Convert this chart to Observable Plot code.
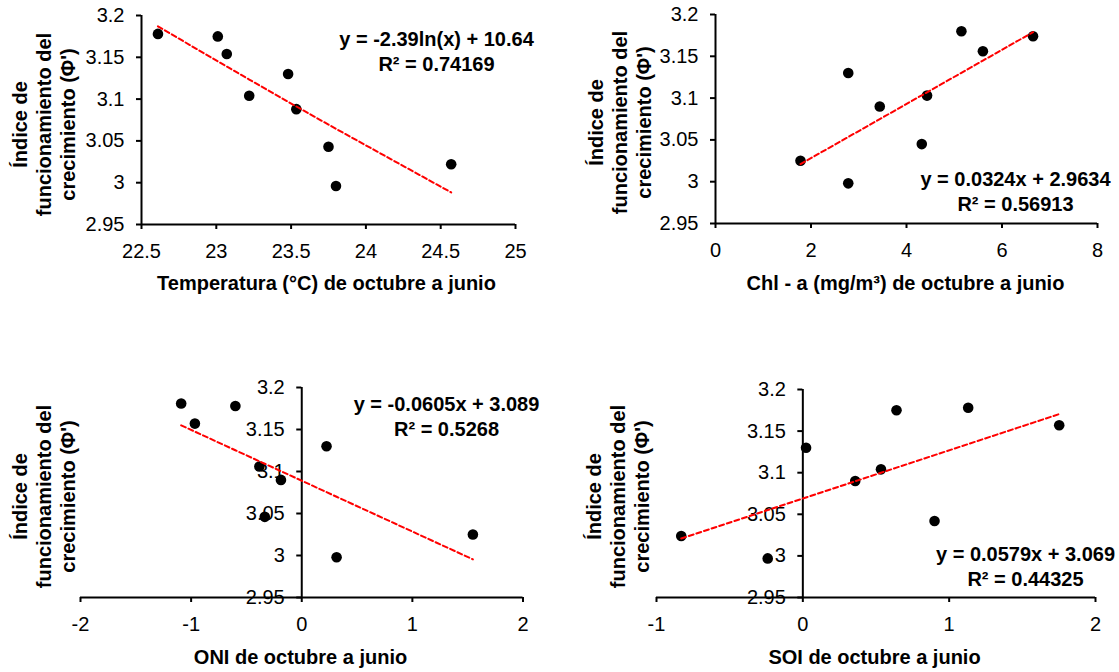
<!DOCTYPE html>
<html><head><meta charset="utf-8">
<script src="https://cdn.jsdelivr.net/npm/d3@7"></script>
<script src="https://cdn.jsdelivr.net/npm/@observablehq/plot@0.6"></script>
<style>
body{margin:0;background:#fff}
#wrap{position:relative;width:1119px;height:672px;overflow:hidden;background:#fff}
#wrap svg{position:absolute}
</style>
</head><body><div id="wrap"></div>
<script>
// ---------- data ----------
const yTicks = [2.95, 3, 3.05, 3.1, 3.15, 3.2];
const yTitle = "Índice de\nfuncionamiento del\ncrecimiento (Φ')";

const tempX = [22.61, 23.01, 23.07, 23.22, 23.48, 23.535, 23.75, 23.80, 24.57];
const tempY = [3.178, 3.175, 3.154, 3.104, 3.130, 3.088, 3.043, 2.996, 3.022];
const tempFit = [-2.39, 10.64];          // y = a ln(x) + b
const tempTicks = [22.5, 23, 23.5, 24, 24.5, 25];
const tempEq = ["y = -2.39ln(x) + 10.64", "R² = 0.74169"];

const chlX = [1.78, 2.78, 2.78, 3.44, 4.32, 4.43, 5.15, 5.60, 6.65];
const chlY = [3.025, 3.130, 2.998, 3.090, 3.045, 3.103, 3.180, 3.156, 3.174];
const chlFit = [0.0324, 2.9634];         // y = a x + b
const chlTicks = [0, 2, 4, 6, 8];
const chlEq = ["y = 0.0324x + 2.9634", "R² = 0.56913"];

const oniX = [-1.09, -0.966, -0.60, -0.383, -0.334, -0.188, 0.224, 0.315, 1.547];
const oniY = [3.181, 3.157, 3.178, 3.106, 3.046, 3.090, 3.130, 2.998, 3.025];
const oniFit = [-0.0605, 3.089];
const oniTicks = [-2, -1, 0, 1, 2];
const oniEq = ["y = -0.0605x + 3.089", "R² = 0.5268"];

const soiX = [-0.831, -0.240, 0.022, 0.358, 0.534, 0.64, 0.90, 1.13, 1.752];
const soiY = [3.024, 2.997, 3.130, 3.090, 3.104, 3.175, 3.042, 3.178, 3.157];
const soiFit = [0.0579, 3.069];
const soiTicks = [-1, 0, 1, 2];
const soiEq = ["y = 0.0579x + 3.069", "R² = 0.44325"];

// ---------- drawing ----------
const FONT = "'Liberation Sans', Arial, Helvetica, sans-serif";
const W = 560, H = 336;

function panel(c) {
  const m = c.m;
  const pts = c.xs.map((x, i) => ({x, y: c.ys[i]}));
  const f = c.log ? x => c.fit[0] * Math.log(x) + c.fit[1] : x => c.fit[0] * x + c.fit[1];
  const trend = [...c.xs].sort((a, b) => a - b).map(x => ({x, y: f(x)}));
  const at = (txt, p, o) => Plot.text([txt], {
    text: d => d, frameAnchor: "top-left", dx: p[0] - m.left, dy: p[1] - m.top,
    fontFamily: FONT, fill: "#000", ...o
  });
  const svg = Plot.plot({
    width: W, height: H,
    marginLeft: m.left, marginRight: m.right, marginTop: m.top, marginBottom: m.bottom,
    x: {domain: c.xDomain, axis: null},
    y: {domain: [yTicks[0], yTicks[yTicks.length - 1]], axis: null},
    style: {fontFamily: FONT, background: "transparent", overflow: "visible"},
    marks: [
      Plot.axisX(c.xTicks, {tickSize: 5, tickPadding: 14, fontSize: 20, strokeWidth: 2,
        tickFormat: d => String(d), label: null, fill: "#000", stroke: "#000"}),
      Plot.text(yTicks, {x: () => c.cross, y: d => d, text: d => String(d), textAnchor: "end",
        dx: -17, fontSize: 20, fill: "#000"}),
      Plot.ruleY(yTicks, {y: d => d, x1: () => c.cross, x2: () => c.cross, insetLeft: -5,
        stroke: "#000", strokeWidth: 2}),
      Plot.ruleY([yTicks[0]], {stroke: "#000", strokeWidth: 2}),
      Plot.ruleX([c.cross], {stroke: "#000", strokeWidth: 2}),
      Plot.dot(pts, {x: "x", y: "y", r: 5.3, fill: "#000", stroke: "none"}),
      Plot.line(trend, {x: "x", y: "y", stroke: "#ff0000", strokeWidth: 2, strokeDasharray: "5,3",
        curve: "linear"}),
      at(c.eq.join("\n"), c.eqPos, {fontSize: 20, fontWeight: "bold", lineHeight: 1.25,
        textAnchor: "middle", lineAnchor: "middle"}),
      at(c.xTitle, c.xTitlePos, {fontSize: 20, fontWeight: "bold", textAnchor: "middle",
        lineAnchor: "middle"}),
      at(yTitle, c.yTitlePos, {fontSize: 20, fontWeight: "bold", textAnchor: "middle",
        lineAnchor: "middle", lineHeight: 1.2, rotate: -90})
    ]
  });
  svg.style.left = c.box[0] + "px";
  svg.style.top = c.box[1] + "px";
  document.getElementById("wrap").appendChild(svg);
}

panel({xs: tempX, ys: tempY, fit: tempFit, log: true, xDomain: [22.5, 25], xTicks: tempTicks,
  cross: 22.5, eq: tempEq, xTitle: "Temperatura (°C) de octubre a junio",
  box: [0, 0], m: {left: 141, right: 45, top: 15, bottom: 112},
  yTitlePos: [43, 124], xTitlePos: [326, 283], eqPos: [436, 49.5]});

panel({xs: chlX, ys: chlY, fit: chlFit, log: false, xDomain: [0, 8], xTicks: chlTicks,
  cross: 0, eq: chlEq, xTitle: "Chl - a (mg/m³) de octubre a junio",
  box: [560, 0], m: {left: 155, right: 23, top: 14, bottom: 113},
  yTitlePos: [59, 122], xTitlePos: [345, 283], eqPos: [455, 189.5]});

panel({xs: oniX, ys: oniY, fit: oniFit, log: false, xDomain: [-2, 2], xTicks: oniTicks,
  cross: 0, eq: oniEq, xTitle: "ONI de octubre a junio",
  box: [0, 336], m: {left: 80, right: 37.5, top: 51, bottom: 75},
  yTitlePos: [43, 160], xTitlePos: [300, 321], eqPos: [446, 78.5]});

panel({xs: soiX, ys: soiY, fit: soiFit, log: false, xDomain: [-1, 2], xTicks: soiTicks,
  cross: 0, eq: soiEq, xTitle: "SOI de octubre a junio",
  box: [560, 336], m: {left: 96, right: 25, top: 53, bottom: 75},
  yTitlePos: [57, 160], xTitlePos: [314, 321], eqPos: [465, 228.5]});
</script></body></html>
